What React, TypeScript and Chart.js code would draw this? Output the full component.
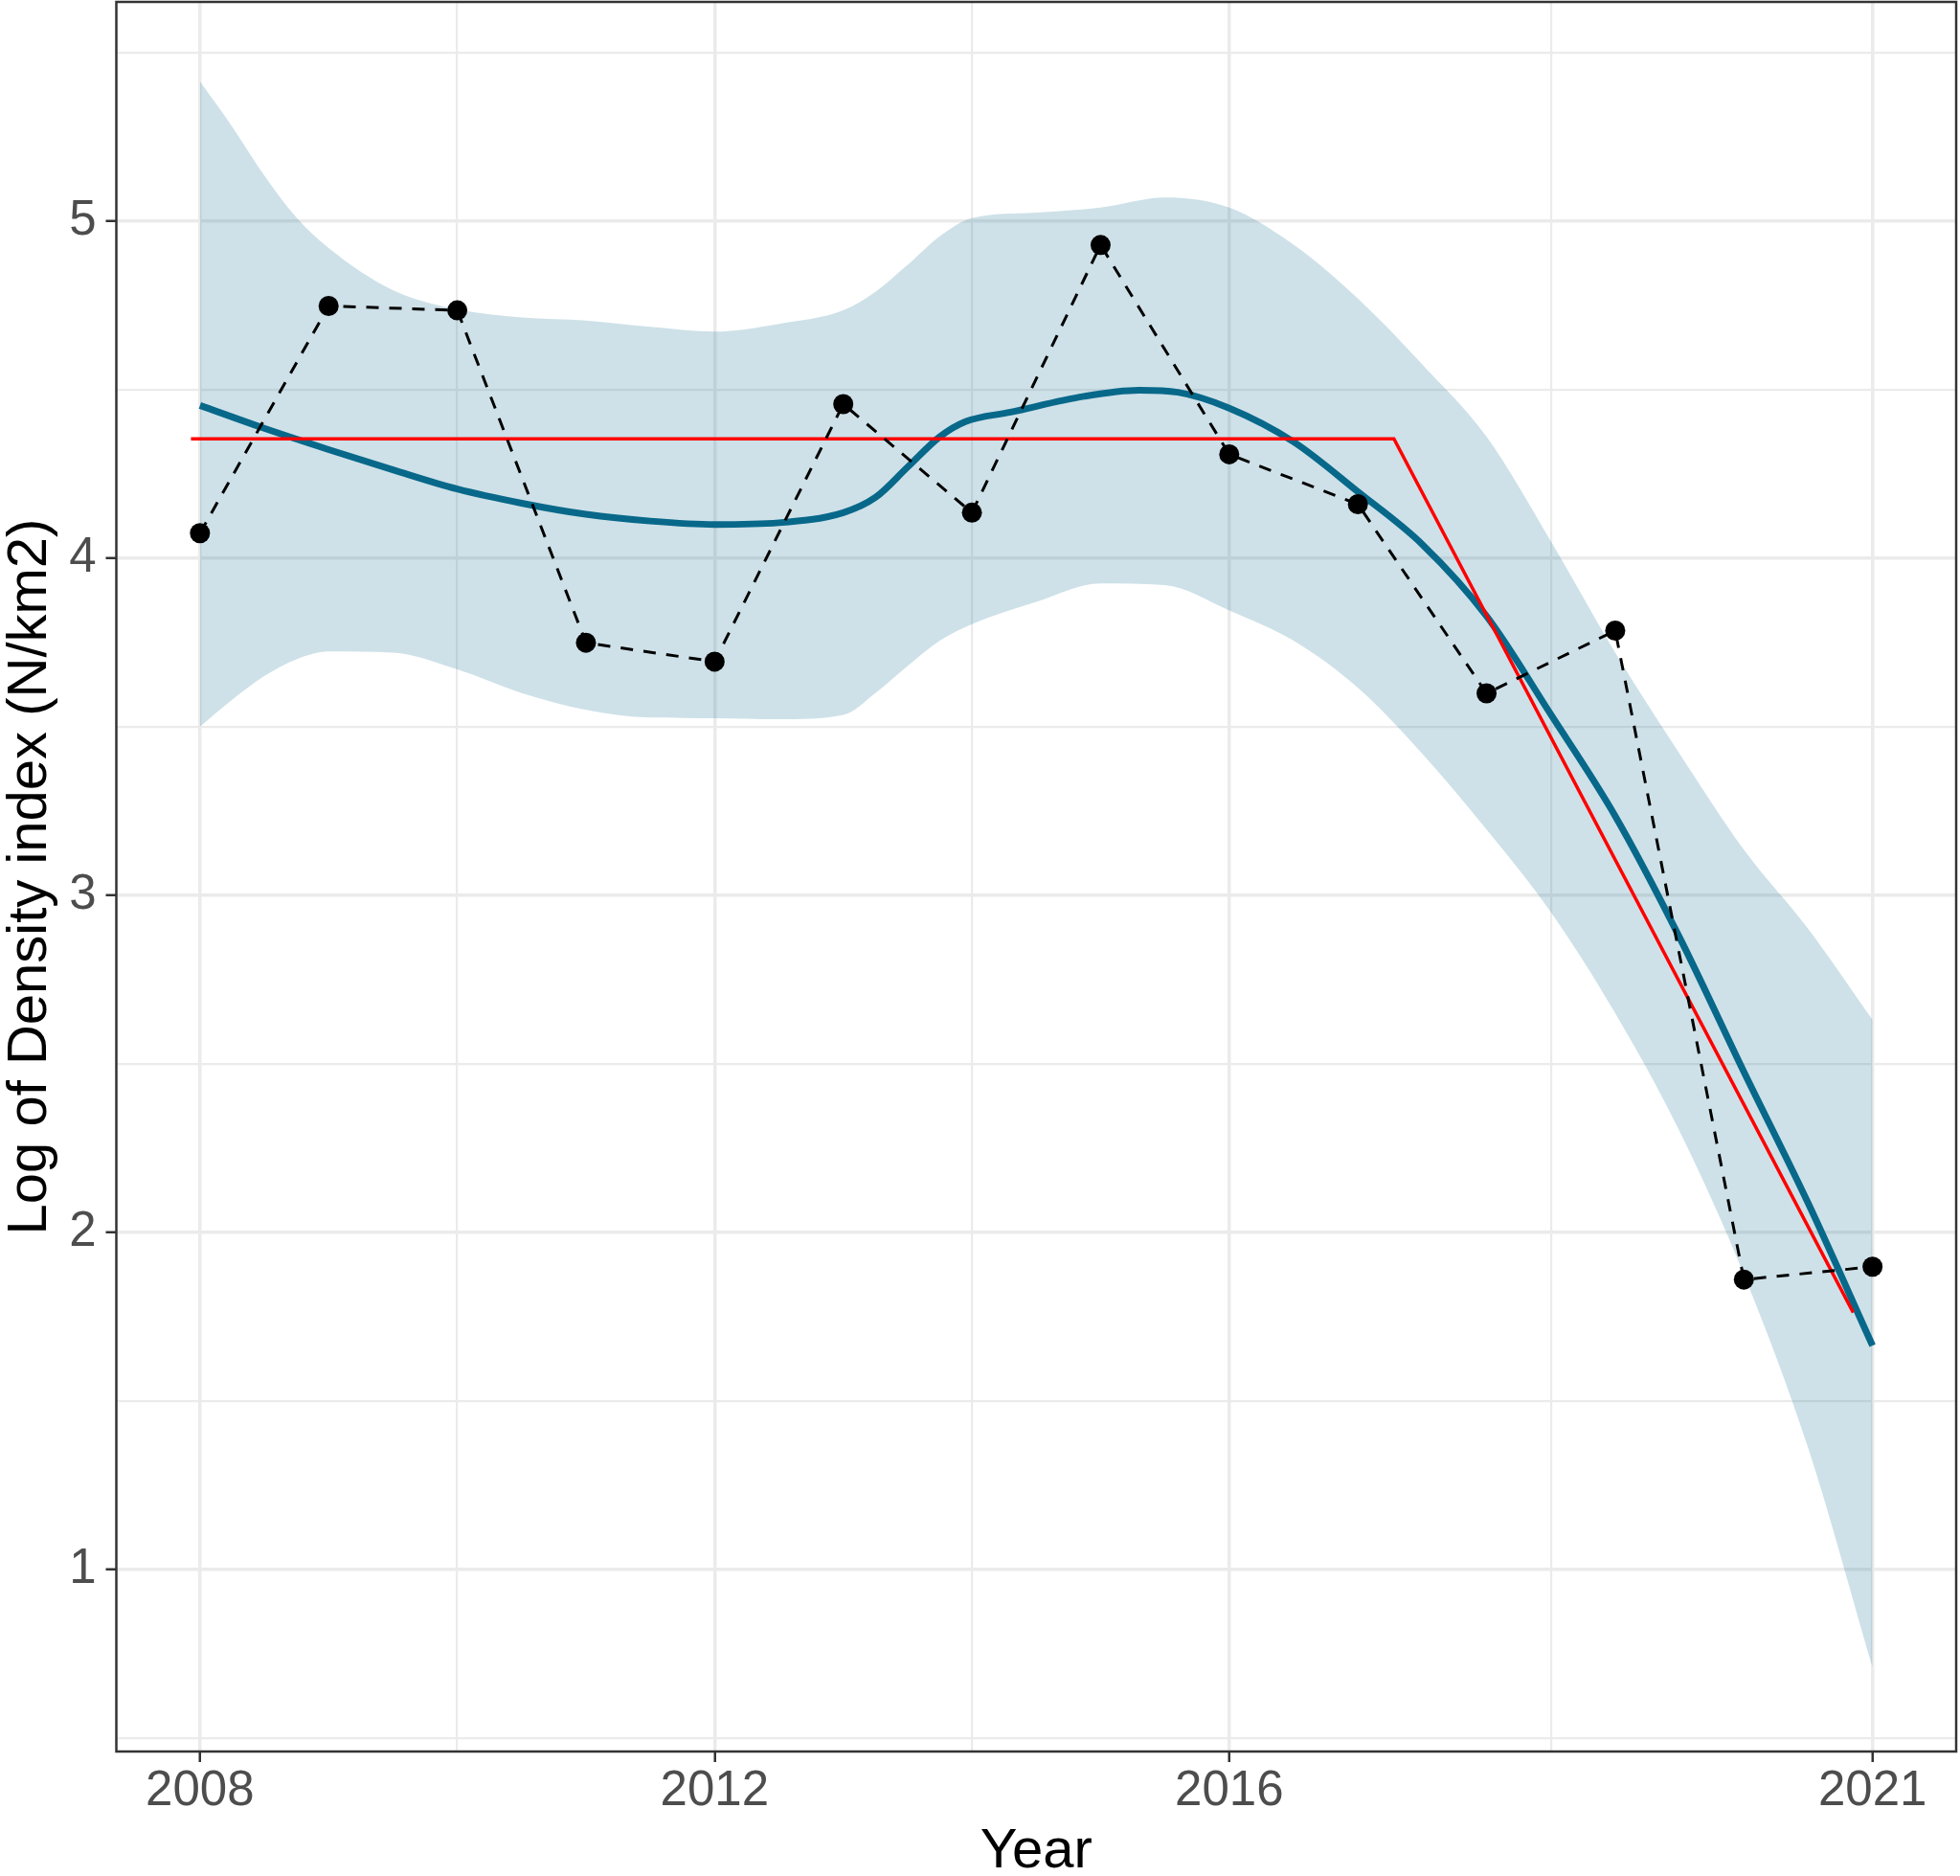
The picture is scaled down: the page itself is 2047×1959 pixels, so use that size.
import React, { useEffect, useRef } from 'react'
import { Chart, registerables, type ChartConfiguration } from 'chart.js'

Chart.register(...registerables)

// observed yearly index
const years = [2008, 2009, 2010, 2011, 2012, 2013, 2014, 2015, 2016, 2017, 2018, 2019, 2020, 2021]
const density = [4.074, 4.748, 4.735, 3.749, 3.693, 4.457, 4.135, 4.929, 4.308, 4.160, 3.599, 3.785, 1.860, 1.898]

// loess fit
const smoothYears = [
  2008, 2008.5, 2009, 2009.5, 2010, 2010.5, 2011, 2011.5, 2012, 2012.5, 2013, 2013.25, 2013.5, 2013.75,
  2013.95, 2014.3, 2014.87, 2015.3, 2015.6, 2016, 2016.5, 2017, 2017.5, 2018, 2018.5, 2019, 2019.5, 2020, 2020.5, 2021,
]
const smoothFit = [
  4.453, 4.385, 4.322, 4.262, 4.205, 4.163, 4.13, 4.11, 4.10, 4.105, 4.135, 4.18, 4.27, 4.36,
  4.405, 4.433, 4.48, 4.498, 4.492, 4.445, 4.345, 4.197, 4.041, 3.828, 3.536, 3.235, 2.875, 2.476, 2.086, 1.664,
]

// confidence band
const bandYears = [
  2008, 2008.25, 2008.5, 2008.75, 2009, 2009.5, 2010, 2010.5, 2011, 2011.5, 2012, 2012.5, 2013, 2013.25, 2013.5, 2013.75,
  2014, 2014.5, 2015, 2015.5, 2016, 2016.5, 2017, 2017.5, 2018, 2018.5, 2019, 2019.5, 2020, 2020.5, 2021,
]
const bandUpper = [
  5.414, 5.28, 5.135, 5.01, 4.92, 4.795, 4.738, 4.714, 4.705, 4.686, 4.672, 4.695, 4.735, 4.79, 4.87, 4.955,
  5.009, 5.025, 5.04, 5.07, 5.04, 4.93, 4.77, 4.575, 4.36, 4.05, 3.72, 3.42, 3.135, 2.90, 2.63,
]
const bandLower = [
  3.50, 3.58, 3.65, 3.70, 3.723, 3.72, 3.67, 3.60, 3.55, 3.527, 3.525, 3.522, 3.535, 3.60, 3.68, 3.755,
  3.804, 3.87, 3.925, 3.92, 3.845, 3.755, 3.615, 3.42, 3.195, 2.95, 2.65, 2.30, 1.875, 1.36, 0.71,
]

// segmented regression
const breakYears = [2007.93, 2017.28, 2020.85]
const breakFit = [4.354, 4.354, 1.762]

const xMajor = [2008, 2012, 2016, 2021]
const xMinor = [2010, 2014, 2018.5]
const yMajor = [1, 2, 3, 4, 5]
const yMinor = [0.5, 1.5, 2.5, 3.5, 4.5, 5.5]

const FONT = "'Liberation Sans', Arial, sans-serif"
const BLUE = '#08688A'

const pts = (xs: number[], ys: number[]) => xs.map((x, i) => ({ x, y: ys[i] }))

const panelBorder = {
  id: 'panelBorder',
  afterDraw(chart: Chart) {
    const { ctx, chartArea: { left, top, right, bottom } } = chart
    ctx.save()
    ctx.strokeStyle = '#333333'
    ctx.lineWidth = 2.5
    ctx.strokeRect(left, top, right - left, bottom - top)
    ctx.restore()
  },
}

const gridFor = (major: number[]) => ({
  color: '#EBEBEB',
  lineWidth: (c: any) => (major.includes(c.tick?.value) ? 3.5 : 2.2),
  tickColor: (c: any) => (major.includes(c.tick?.value) ? '#333333' : 'rgba(0,0,0,0)'),
  tickLength: 11,
  tickWidth: 2.5,
})

export default function App() {
  const canvasRef = useRef<HTMLCanvasElement>(null)
  const chartRef = useRef<Chart | null>(null)

  useEffect(() => {
    document.body.style.margin = '0'
    if (!canvasRef.current) return
    chartRef.current?.destroy()

    const cfg: ChartConfiguration = {
      type: 'line',
      data: {
        datasets: [
          {
            label: 'Observed',
            data: pts(years, density),
            borderColor: '#000000',
            borderWidth: 3,
            borderDash: [13, 11],
            pointRadius: 10.5,
            pointBackgroundColor: '#000000',
            pointBorderWidth: 0,
            fill: false,
            order: 1,
          },
          {
            label: 'Segmented',
            data: pts(breakYears, breakFit),
            borderColor: '#FF0000',
            borderWidth: 3.5,
            pointRadius: 0,
            fill: false,
            order: 2,
          },
          {
            label: 'Loess',
            data: pts(smoothYears, smoothFit),
            borderColor: BLUE,
            borderWidth: 7,
            pointRadius: 0,
            cubicInterpolationMode: 'monotone',
            fill: false,
            order: 3,
          },
          {
            label: 'Upper',
            data: pts(bandYears, bandUpper),
            borderColor: 'transparent',
            borderWidth: 0,
            pointRadius: 0,
            cubicInterpolationMode: 'monotone',
            backgroundColor: 'rgba(8,104,138,0.2)',
            fill: '+1',
            order: 4,
          },
          {
            label: 'Lower',
            data: pts(bandYears, bandLower),
            borderColor: 'transparent',
            borderWidth: 0,
            pointRadius: 0,
            cubicInterpolationMode: 'monotone',
            fill: false,
            order: 4,
          },
        ],
      },
      options: {
        responsive: false,
        devicePixelRatio: 1,
        animation: false,
        layout: { autoPadding: false, padding: { top: 2, right: 4, left: 0, bottom: 0 } },
        plugins: {
          legend: { display: false },
          tooltip: { enabled: false },
        },
        scales: {
          x: {
            type: 'linear',
            min: 2007.35,
            max: 2021.65,
            afterBuildTicks: (s: any) => {
              s.ticks = [...xMajor, ...xMinor].sort((a, b) => a - b).map(v => ({ value: v }))
            },
            afterFit: (s: any) => {
              s.height = 130
              s.paddingLeft = 0
              s.paddingRight = 0
            },
            ticks: {
              autoSkip: false,
              maxRotation: 0,
              padding: 0,
              color: '#4D4D4D',
              font: { family: FONT, size: 51 },
              callback: (v: any) => (xMajor.includes(Number(v)) ? String(v) : ''),
            },
            grid: gridFor(xMajor),
            border: { display: false },
            title: {
              display: true,
              text: 'Year',
              color: '#000000',
              font: { family: FONT, size: 58 },
              padding: { top: 0, bottom: -10 },
            },
          },
          y: {
            type: 'linear',
            min: 0.46,
            max: 5.65,
            afterBuildTicks: (s: any) => {
              s.ticks = [...yMinor, ...yMajor].sort((a, b) => a - b).map(v => ({ value: v }))
            },
            afterFit: (s: any) => {
              s.width = 121.5
              s.paddingTop = 0
              s.paddingBottom = 0
            },
            ticks: {
              autoSkip: false,
              padding: 10,
              color: '#4D4D4D',
              font: { family: FONT, size: 51 },
              callback: (v: any) => (yMajor.includes(Number(v)) ? String(v) : ''),
            },
            grid: gridFor(yMajor),
            border: { display: false },
            title: {
              display: true,
              text: 'Log of Density index (N/km2)',
              color: '#000000',
              font: { family: FONT, size: 58 },
              padding: { top: -3, bottom: 0 },
            },
          },
        },
      },
      plugins: [panelBorder],
    }
    chartRef.current = new Chart(canvasRef.current, cfg)
    return () => { chartRef.current?.destroy() }
  }, [])

  return (
    <div style={{ width: 2047, height: 1959, background: '#ffffff' }}>
      <canvas ref={canvasRef} width={2047} height={1959} />
    </div>
  )
}
